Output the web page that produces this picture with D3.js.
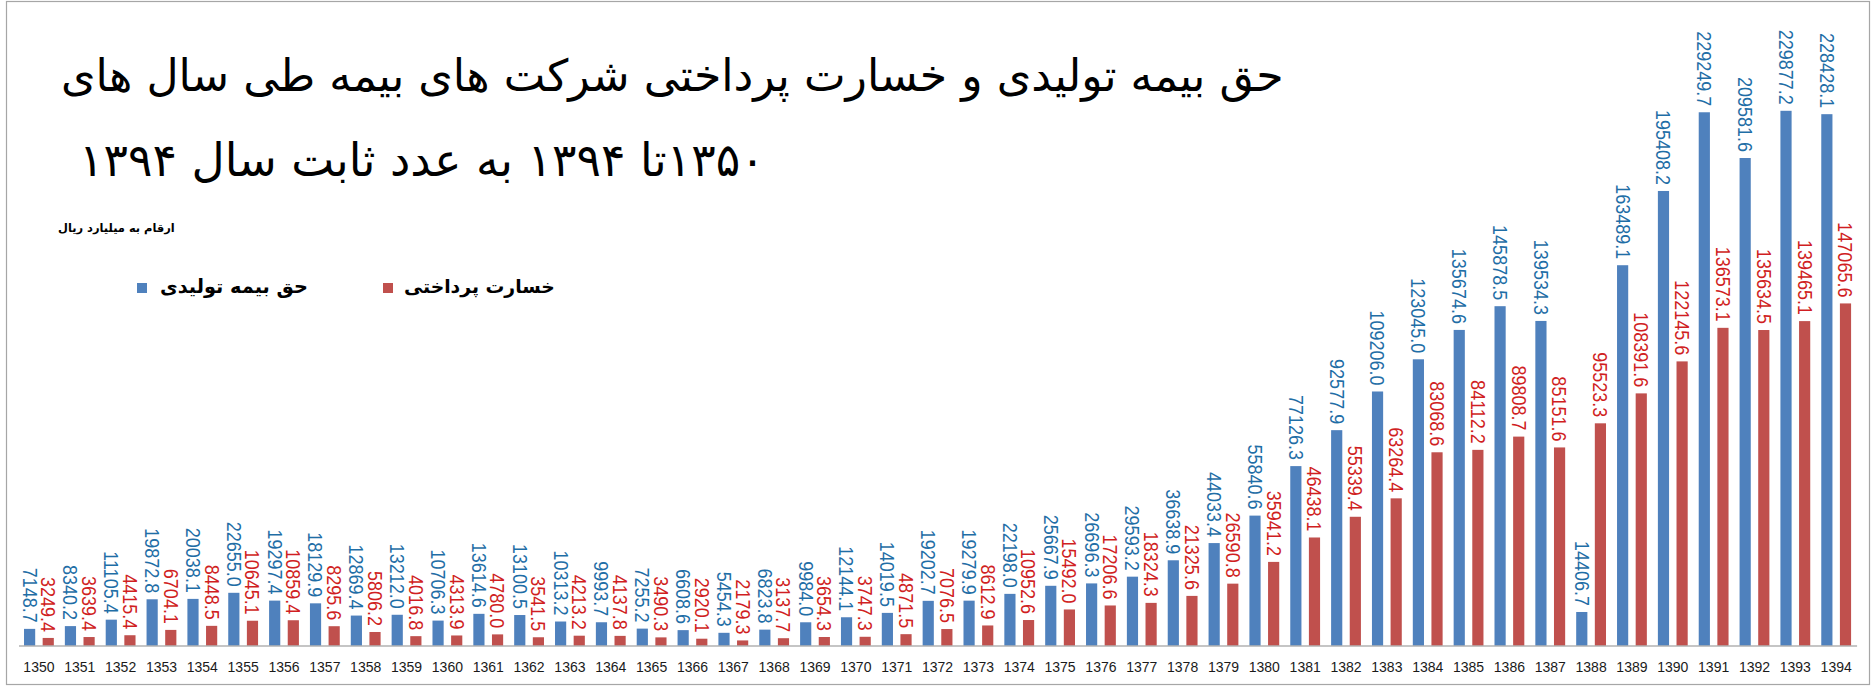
<!DOCTYPE html>
<html>
<head>
<meta charset="utf-8">
<script src="https://cdn.jsdelivr.net/npm/d3@7"></script>
<style>
  html, body { margin: 0; padding: 0; background: #fff; }
  svg { display: block; }
</style>
</head>
<body>
<svg width="1873" height="687"></svg>
<script>
'use strict';

// years (solar hijri)
var years = d3.range(1350, 1395).map(String);

// premiums written, billion rials
var premium = [7148.7, 8340.2, 11105.4, 19872.8, 20038.1, 22655.0, 19297.4, 18129.9, 12869.4, 13212.0,
	10706.3, 13614.6, 13100.5, 10313.2, 9993.7, 7255.2, 6608.6, 5454.3, 6823.8, 9984.0,
	12144.1, 14019.5, 19202.7, 19279.9, 22198.0, 25667.9, 26696.3, 29593.2, 36638.9, 44033.4,
	55840.6, 77126.3, 92577.9, 109206.0, 123045.0, 135674.6, 145878.5, 139534.3, 14406.7, 163489.1,
	195408.2, 229249.7, 209581.6, 229877.2, 228428.1];

// claims paid, billion rials
var claims = [3249.4, 3639.4, 4415.4, 6704.1, 8448.5, 10645.1, 10859.4, 8295.6, 5806.2, 4016.8,
	4313.9, 4780.0, 3541.5, 4213.2, 4137.8, 3490.3, 2920.1, 2179.3, 3137.7, 3654.3,
	3747.3, 4871.5, 7076.5, 8612.9, 10952.6, 15492.0, 17206.6, 18324.3, 21325.6, 26590.8,
	35941.2, 46438.1, 55339.4, 63264.4, 83068.6, 84112.2, 89808.7, 85151.6, 95523.3, 108391.6,
	122145.6, 136573.1, 135634.5, 139465.1, 147065.6];

var seriesKeys = ['premium', 'claims'];
var seriesNames = ['حق بیمه تولیدی', 'خسارت پرداختی'];

var titleLine1 = 'حق بیمه تولیدی و خسارت پرداختی شرکت های بیمه طی سال های';
var titleLine2 = '۱۳۵۰تا ۱۳۹۴ به عدد ثابت سال ۱۳۹۴';
var unitNote = 'ارقام به میلیارد ریال';

var barColor = {premium: '#4F81BD', claims: '#C0504D'};
var labelColor = {premium: '#1F6EA6', claims: '#D01E22'};

var svg = d3.select('svg');

// frame
svg.append('rect')
	.attr('x', 6.5).attr('y', 1.5)
	.attr('width', 1863).attr('height', 683)
	.attr('fill', 'none')
	.attr('stroke', '#a6a6a6')
	.attr('stroke-width', 1.2);

var x0 = d3.scaleBand().domain(years).range([18.5, 1856.6]).paddingInner(0.27).paddingOuter(0.135);
var x1 = d3.scaleBand().domain(seriesKeys).range([0, x0.bandwidth()]).paddingInner(0.4);
var y = d3.scaleLinear().domain([0, 250000]).range([645.5, 64]);

var rows = years.map(function(yr, i){
	return {year: yr, premium: premium[i], claims: claims[i]};
});

var groups = svg.append('g').selectAll('g')
	.data(rows).enter()
	.append('g')
	.attr('transform', function(d){ return 'translate(' + x0(d.year) + ',0)'; });

groups.selectAll('rect')
	.data(function(d){ return seriesKeys.map(function(k){ return {key: k, value: d[k]}; }); })
	.enter()
	.append('rect')
	.attr('x', function(d){ return x1(d.key); })
	.attr('y', function(d){ return y(d.value); })
	.attr('width', x1.bandwidth())
	.attr('height', function(d){ return y(0) - y(d.value); })
	.attr('fill', function(d){ return barColor[d.key]; });

// value labels, read top to bottom, glyphs a little taller than wide
groups.selectAll('text.lbl')
	.data(function(d){ return seriesKeys.map(function(k){ return {key: k, value: d[k]}; }); })
	.enter()
	.append('text')
	.attr('class', 'lbl')
	.attr('transform', function(d){
		return 'translate(' + (x1(d.key) + x1.bandwidth()/2) + ',' + (y(d.value) - 6) + ') rotate(90) scale(1,1.12)';
	})
	.attr('text-anchor', 'end')
	.attr('dy', '0.35em')
	.attr('font-family', '"Liberation Sans", Arial, sans-serif')
	.attr('font-size', 18)
	.attr('fill', function(d){ return labelColor[d.key]; })
	.text(function(d){ return d.value.toFixed(1); });

// category axis
var axis = svg.append('g')
	.attr('transform', 'translate(0,' + y(0) + ')')
	.call(d3.axisBottom(x0).tickSize(0).tickPadding(17));
axis.select('.domain').attr('stroke', '#8c8c8c').attr('stroke-width', 1.2);
axis.selectAll('text')
	.attr('font-family', '"Liberation Sans", Arial, sans-serif')
	.attr('font-size', 14)
	.attr('fill', '#1a1a1a');

// persian texts, fitted to measured extents
function fitText(str, left, right, baseline, size, weight){
	var t = svg.append('text')
		.attr('x', 0).attr('y', baseline)
		.attr('direction', 'rtl')
		.attr('font-family', '"DejaVu Sans", sans-serif')
		.attr('font-size', size)
		.attr('font-weight', weight || 'normal')
		.attr('fill', '#000')
		.text(str);
	var bb = t.node().getBBox();
	var fs = size * (right - left) / bb.width;
	t.attr('font-size', fs);
	bb = t.node().getBBox();
	t.attr('x', left - bb.x);
	return t;
}

fitText(titleLine1, 61, 1284, 91, 40);
fitText(titleLine2, 79, 765, 176, 40);
fitText(unitNote, 58, 175, 232, 12, 'bold');

// legend
var legend = [
	{key: 'premium', name: seriesNames[0], sx: 137, left: 160, right: 308},
	{key: 'claims', name: seriesNames[1], sx: 383, left: 404, right: 555}
];
legend.forEach(function(l){
	svg.append('rect')
		.attr('x', l.sx).attr('y', 283)
		.attr('width', 10).attr('height', 10)
		.attr('fill', barColor[l.key]);
	fitText(l.name, l.left, l.right, 293, 20, 'bold');
});
</script>
</body>
</html>
